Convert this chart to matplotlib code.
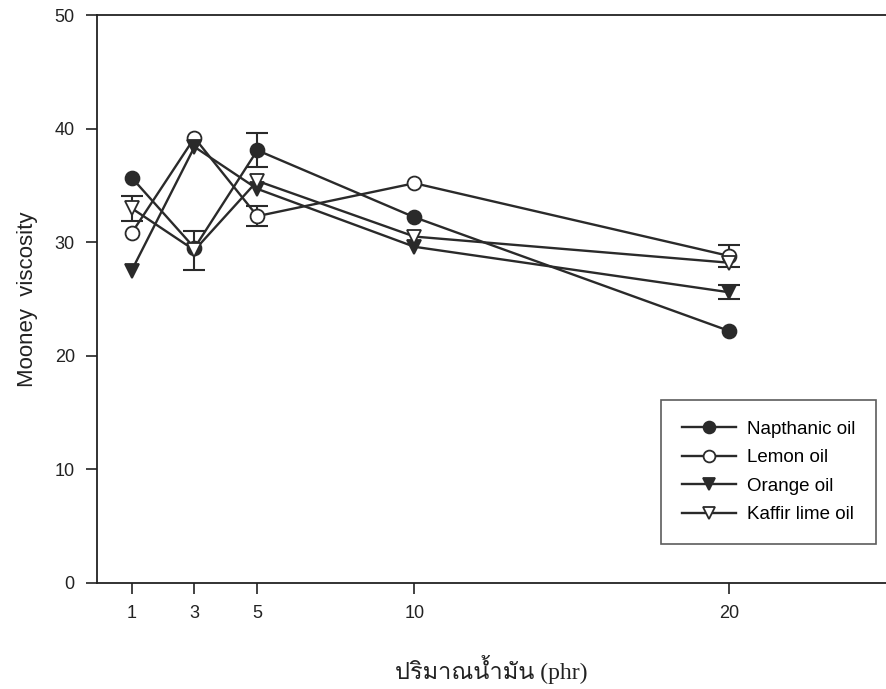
import matplotlib
matplotlib.use('Agg')
import matplotlib.pyplot as plt
from matplotlib import font_manager

# data
oil_phr = [1, 3, 5, 10, 20]
napthanic = [35.7, 29.5, 38.1, 32.2, 22.2]
lemon = [30.8, 39.2, 32.3, 35.2, 28.8]
orange = [27.5, 38.4, 34.7, 29.6, 25.6]
kaffir = [33.0, 29.3, 35.4, 30.5, 28.2]

napthanic_err = [0, 0, 1.5, 0, 0]
lemon_err = [0, 0, 0.9, 0, 1.0]
orange_err = [0, 0, 0, 0, 0.6]
kaffir_err = [1.1, 1.7, 0, 0, 0]

x_ticks = [1, 3, 5, 10, 20]
y_ticks = [0, 10, 20, 30, 40, 50]

# look for any font that has Thai glyphs
thai_font = None
for f in font_manager.fontManager.ttflist:
    if 'Thai' in f.name or f.name in ('Loma', 'Garuda', 'Norasi', 'Kinnari', 'Waree', 'Sarabun', 'TH Sarabun New', 'Tlwg Typo'):
        thai_font = f.name
        break
thai_families = ['Liberation Serif'] + ([thai_font] if thai_font else []) + ['DejaVu Sans']

plt.rcParams['font.family'] = ['Liberation Sans', 'DejaVu Sans']

fig = plt.figure(figsize=(8.86, 6.89), dpi=100)
ax = fig.add_axes([0.1095, 0.154, 0.8905, 0.824])

c = '#2a2a2a'
series = [
    ('Napthanic oil', napthanic, napthanic_err, 'o', c),
    ('Lemon oil', lemon, lemon_err, 'o', 'white'),
    ('Orange oil', orange, orange_err, 'v', c),
    ('Kaffir lime oil', kaffir, kaffir_err, 'v', 'white'),
]
for name, ys, err, m, fc in series:
    # error bars only where there is one
    ex = [x for x, e in zip(oil_phr, err) if e > 0]
    ey = [y for y, e in zip(ys, err) if e > 0]
    ee = [e for e in err if e > 0]
    if ex:
        ax.errorbar(ex, ey, yerr=ee, fmt='none', ecolor=c, capsize=8,
                    capthick=1.5, elinewidth=1.5, zorder=2)
    ax.plot(oil_phr, ys, color=c, lw=1.7, marker=m, markersize=10,
            markerfacecolor=fc, markeredgecolor=c, markeredgewidth=1.3,
            label=name, zorder=3)

ax.set_xlim(-0.1, 25)
ax.set_ylim(0, 50)
ax.set_xticks(x_ticks)
ax.set_yticks(y_ticks)
ax.tick_params(direction='out', length=8, width=1.2, labelsize=13, colors='#222', pad=8)
for s in ['left', 'bottom', 'top']:
    ax.spines[s].set_linewidth(1.3)
    ax.spines[s].set_color('#222')
ax.spines['right'].set_visible(False)

ax.set_ylabel('Mooney  viscosity', fontsize=16, color='#222', labelpad=12)
ax.set_xlabel('ปริมาณน้ำมัน (phr)', fontsize=17, color='#222', labelpad=24,
              family=thai_families)

leg = ax.legend(loc='lower right', bbox_to_anchor=(0.9876, 0.069), fontsize=13.5,
                frameon=True, fancybox=False, edgecolor='#333', handlelength=2.9,
                borderpad=1.1, labelspacing=0.6, handletextpad=0.6, markerscale=0.85,
                borderaxespad=0)
leg.get_frame().set_linewidth(1.2)

fig.savefig('out.png', dpi=100)
